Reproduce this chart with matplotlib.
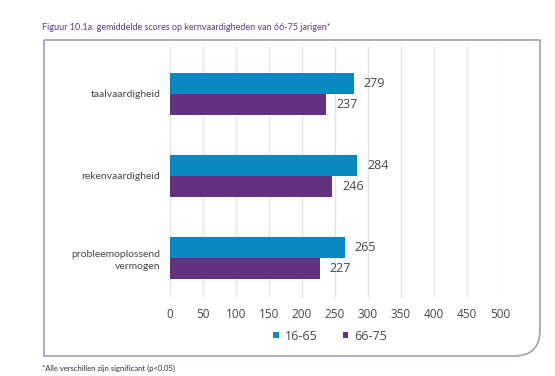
import matplotlib
matplotlib.use('Agg')
import matplotlib.pyplot as plt
import numpy as np
from matplotlib.path import Path
from matplotlib.patches import PathPatch

categories = ['taalvaardigheid', 'rekenvaardigheid', 'probleemoplossend\nvermogen']
series_names = ['16-65', '66-75']
scores_16_65 = [279, 284, 265]
scores_66_75 = [237, 246, 227]
x_ticks = [0, 50, 100, 150, 200, 250, 300, 350, 400, 450, 500]

blue = '#0a89c0'
purple = '#63317f'
text_col = '#474747'

plt.rcParams['font.family'] = ['Lato', 'DejaVu Sans']

W, H = 555, 376
fig = plt.figure(figsize=(W / 100, H / 100), dpi=100)
ax = fig.add_axes([170 / W, 1 - 297 / H, 330 / W, 250 / H])

y = np.arange(len(categories))
h = 0.256
bars1 = ax.barh(y - h / 2, scores_16_65, h, color=blue, label=series_names[0], zorder=3)
bars2 = ax.barh(y + h / 2, scores_66_75, h, color=purple, label=series_names[1], zorder=3)

for rects in (bars1, bars2):
    for rect in rects:
        w = rect.get_width()
        ax.annotate('{}'.format(w),
                    xy=(w, rect.get_y() + rect.get_height() / 2),
                    xytext=(7, 0), textcoords='offset points',
                    ha='left', va='center', fontsize=9, color=text_col,
                    family=['Open Sans', 'DejaVu Sans'])

ax.set_xlim(0, 500)
ax.set_ylim(2.48, -0.57)
ax.set_xticks(x_ticks)
ax.set_xticklabels([str(v) for v in x_ticks], family=['Open Sans', 'DejaVu Sans'])
ax.set_yticks(y)
ax.set_yticklabels(categories, fontsize=7.5, color=text_col, linespacing=1.5,
                   multialignment='right')
ax.tick_params(axis='x', labelsize=8.5, labelcolor=text_col, length=0, pad=8)
ax.tick_params(axis='y', length=0, pad=7)
ax.grid(axis='x', color='#e4e4e4', lw=1, zorder=0)
for s in ax.spines.values():
    s.set_visible(False)

leg = fig.legend(handles=[bars1, bars2], loc='center', bbox_to_anchor=(330 / W, 1 - 336 / H),
                 ncol=2, frameon=False, fontsize=9, handlelength=0.45, handleheight=0.45,
                 handletextpad=0.5, columnspacing=2.0, prop={'family': ['Open Sans', 'DejaVu Sans'], 'size': 9})
for t in leg.get_texts():
    t.set_color(text_col)

# box around the chart with a rounded bottom-right corner (pixel coords)
L, T, R, B, r = 44, 40, 540, 356, 26
pts = [(L, T), (R, T), (R, B - r), (R, B), (R - r, B), (L, B), (L, T)]
codes = [Path.MOVETO, Path.LINETO, Path.LINETO, Path.CURVE3, Path.CURVE3, Path.LINETO, Path.LINETO]
verts = [(px / 100, (H - py) / 100) for px, py in pts]
fig.patches.append(PathPatch(Path(verts, codes), transform=fig.dpi_scale_trans,
                             fill=False, edgecolor='#a79cb3', lw=1.2))

fig.text(42 / W, 1 - 27 / H, 'Figuur 10.1a: gemiddelde scores op kernvaardigheden van 66-75 jarigen*',
         fontsize=6.5, color='#5b3f82', va='center', ha='left')
fig.text(42 / W, 1 - 368 / H, '*Alle verschillen zijn significant (p<0.05)',
         fontsize=5.5, color='#333333', va='center', ha='left')

fig.savefig('out.png', dpi=100)
